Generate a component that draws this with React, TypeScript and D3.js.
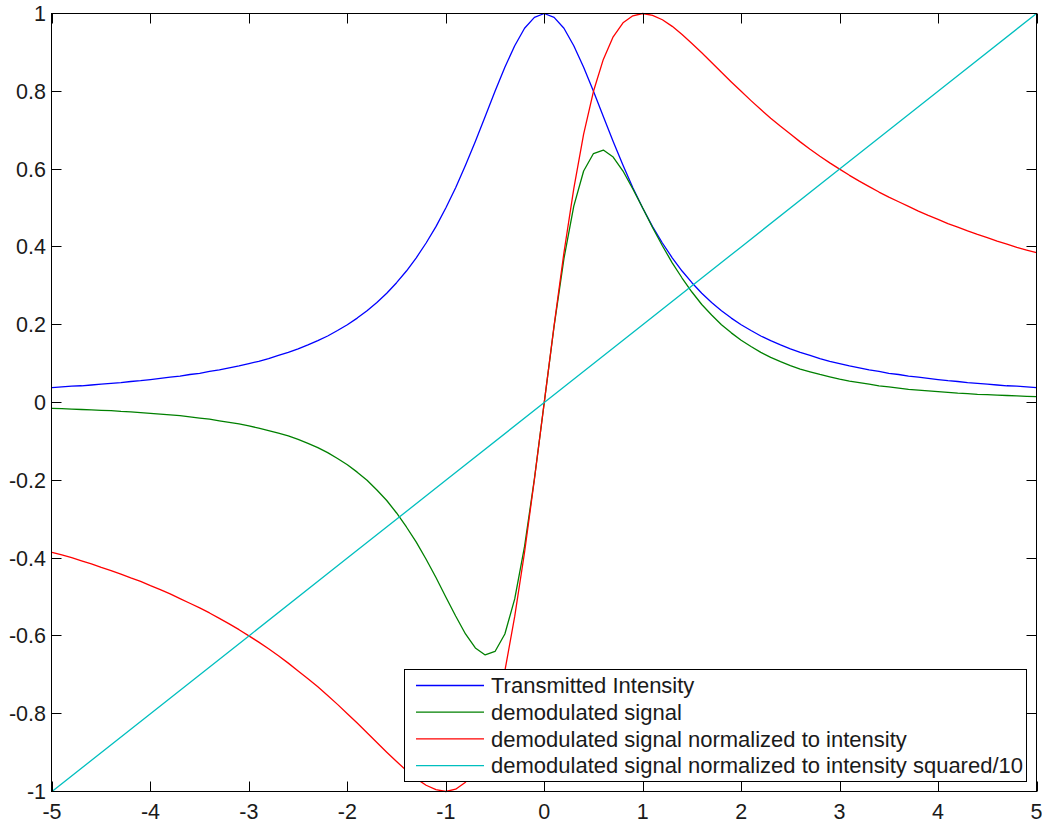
import React from "react";
import * as d3 from "d3";

const xs = [
  -5.0, -4.9, -4.8, -4.7, -4.6, -4.5, -4.4, -4.3, -4.2, -4.1,
  -4.0, -3.9, -3.8, -3.7, -3.6, -3.5, -3.4, -3.3, -3.2, -3.1,
  -3.0, -2.9, -2.8, -2.7, -2.6, -2.5, -2.4, -2.3, -2.2, -2.1,
  -2.0, -1.9, -1.8, -1.7, -1.6, -1.5, -1.4, -1.3, -1.2, -1.1,
  -1.0, -0.9, -0.8, -0.7, -0.6, -0.5, -0.4, -0.3, -0.2, -0.1,
  0.0,
  0.1, 0.2, 0.3, 0.4, 0.5, 0.6, 0.7, 0.8, 0.9, 1.0,
  1.1, 1.2, 1.3, 1.4, 1.5, 1.6, 1.7, 1.8, 1.9, 2.0,
  2.1, 2.2, 2.3, 2.4, 2.5, 2.6, 2.7, 2.8, 2.9, 3.0,
  3.1, 3.2, 3.3, 3.4, 3.5, 3.6, 3.7, 3.8, 3.9, 4.0,
  4.1, 4.2, 4.3, 4.4, 4.5, 4.6, 4.7, 4.8, 4.9, 5.0,
];

const intensity = [
  0.038, 0.040, 0.042, 0.043, 0.045, 0.047, 0.049, 0.051, 0.054, 0.056,
  0.059, 0.062, 0.065, 0.068, 0.072, 0.075, 0.080, 0.084, 0.089, 0.094,
  0.100, 0.106, 0.113, 0.121, 0.129, 0.138, 0.148, 0.159, 0.171, 0.185,
  0.200, 0.217, 0.236, 0.257, 0.281, 0.308, 0.338, 0.372, 0.410, 0.452,
  0.500, 0.552, 0.610, 0.671, 0.735, 0.800, 0.862, 0.917, 0.962, 0.990,
  1.000,
  0.990, 0.962, 0.917, 0.862, 0.800, 0.735, 0.671, 0.610, 0.552, 0.500,
  0.452, 0.410, 0.372, 0.338, 0.308, 0.281, 0.257, 0.236, 0.217, 0.200,
  0.185, 0.171, 0.159, 0.148, 0.138, 0.129, 0.121, 0.113, 0.106, 0.100,
  0.094, 0.089, 0.084, 0.080, 0.075, 0.072, 0.068, 0.065, 0.062, 0.059,
  0.056, 0.054, 0.051, 0.049, 0.047, 0.045, 0.043, 0.042, 0.040, 0.038,
];

const demod = [
  -0.015, -0.016, -0.017, -0.018, -0.019, -0.020, -0.021, -0.023, -0.024, -0.026,
  -0.028, -0.030, -0.032, -0.034, -0.037, -0.040, -0.043, -0.047, -0.051, -0.055,
  -0.060, -0.066, -0.072, -0.079, -0.086, -0.095, -0.105, -0.116, -0.129, -0.144,
  -0.160, -0.179, -0.200, -0.225, -0.252, -0.284, -0.320, -0.359, -0.403, -0.450,
  -0.500, -0.549, -0.595, -0.631, -0.649, -0.640, -0.595, -0.505, -0.370, -0.196,
  0.0,
  0.196, 0.370, 0.505, 0.595, 0.640, 0.649, 0.631, 0.595, 0.549, 0.500,
  0.450, 0.403, 0.359, 0.320, 0.284, 0.252, 0.225, 0.200, 0.179, 0.160,
  0.144, 0.129, 0.116, 0.105, 0.095, 0.086, 0.079, 0.072, 0.066, 0.060,
  0.055, 0.051, 0.047, 0.043, 0.040, 0.037, 0.034, 0.032, 0.030, 0.028,
  0.026, 0.024, 0.023, 0.021, 0.020, 0.019, 0.018, 0.017, 0.016, 0.015,
];

const normalized = [
  -0.385, -0.392, -0.399, -0.407, -0.415, -0.424, -0.432, -0.441, -0.451, -0.460,
  -0.471, -0.481, -0.492, -0.504, -0.516, -0.528, -0.541, -0.555, -0.569, -0.584,
  -0.600, -0.616, -0.633, -0.651, -0.670, -0.690, -0.710, -0.731, -0.753, -0.776,
  -0.800, -0.824, -0.849, -0.874, -0.899, -0.923, -0.946, -0.967, -0.984, -0.995,
  -1.000, -0.994, -0.976, -0.940, -0.882, -0.800, -0.690, -0.550, -0.385, -0.198,
  0.0,
  0.198, 0.385, 0.550, 0.690, 0.800, 0.882, 0.940, 0.976, 0.994, 1.000,
  0.995, 0.984, 0.967, 0.946, 0.923, 0.899, 0.874, 0.849, 0.824, 0.800,
  0.776, 0.753, 0.731, 0.710, 0.690, 0.670, 0.651, 0.633, 0.616, 0.600,
  0.584, 0.569, 0.555, 0.541, 0.528, 0.516, 0.504, 0.492, 0.481, 0.471,
  0.460, 0.451, 0.441, 0.432, 0.424, 0.415, 0.407, 0.399, 0.392, 0.385,
];

const xsSquared = [-5, -4, -3, -2, -1, 0, 1, 2, 3, 4, 5];
const normSquared = [-1.0, -0.8, -0.6, -0.4, -0.2, 0.0, 0.2, 0.4, 0.6, 0.8, 1.0];

const xTicks = [-5, -4, -3, -2, -1, 0, 1, 2, 3, 4, 5];
const yTicks = [-1, -0.8, -0.6, -0.4, -0.2, 0, 0.2, 0.4, 0.6, 0.8, 1];

const seriesNames = [
  "Transmitted Intensity",
  "demodulated signal",
  "demodulated signal normalized to intensity",
  "demodulated signal normalized to intensity squared/10",
];
const seriesColors = ["#0000ff", "#008000", "#ff0000", "#00bfbf"];

const W = 1042;
const H = 822;
const L = 52;
const R = 1036.5;
const T = 13.5;
const B = 791.5;
const FONT = "'Liberation Sans', Arial, sans-serif";

export default function App() {
  const x = d3.scaleLinear().domain([-5, 5]).range([L, R]);
  const y = d3.scaleLinear().domain([-1, 1]).range([B, T]);

  const mk = (xv: number[], yv: number[]) =>
    d3
      .line<number>()
      .x((_, i) => x(xv[i]))
      .y((d) => y(d))(yv) || "";

  const paths = [
    mk(xs, intensity),
    mk(xs, demod),
    mk(xs, normalized),
    mk(xsSquared, normSquared),
  ];

  const fmt = (v: number) => {
    const s = d3.format("")(Math.round(v * 10) / 10);
    return s.replace("−", "-");
  };

  const tickLen = 10;
  const legX0 = 404.5;
  const legX1 = 1026.5;
  const legY0 = 669.5;
  const legY1 = 781.5;
  const rowH = 26.7;
  const row0 = 685.5;

  return (
    <svg
      width={W}
      height={H}
      style={{ position: "absolute", left: 0, top: 0, background: "#fff" }}
      fontFamily={FONT}
    >
      <rect x={0} y={0} width={W} height={H} fill="#fff" />
      <g fill="none" strokeWidth={1.3} strokeLinejoin="round">
        {paths.map((p, i) => (
          <path key={i} d={p} stroke={seriesColors[i]} />
        ))}
      </g>
      {/* axes box */}
      <rect
        x={L - 0.5}
        y={T}
        width={R - L + 0.5}
        height={B - T}
        fill="none"
        stroke="#000"
        strokeWidth={1}
      />
      {/* ticks */}
      <g stroke="#000" strokeWidth={1}>
        {xTicks.map((t) => {
          const px = Math.round(x(t)) + 0.5;
          return (
            <g key={"xt" + t}>
              <line x1={px} x2={px} y1={B} y2={B - tickLen} />
              <line x1={px} x2={px} y1={T} y2={T + tickLen} />
            </g>
          );
        })}
        {yTicks.map((t) => {
          const py = Math.round(y(t) - 0.5) + 0.5;
          return (
            <g key={"yt" + t}>
              <line x1={L - 0.5} x2={L - 0.5 + tickLen} y1={py} y2={py} />
              <line x1={R} x2={R - tickLen} y1={py} y2={py} />
            </g>
          );
        })}
      </g>
      {/* tick labels */}
      <g fontSize={21.5} fill="#1a1a1a">
        {xTicks.map((t) => (
          <text key={"xl" + t} x={x(t)} y={819} textAnchor="middle">
            {fmt(t)}
          </text>
        ))}
        {yTicks.map((t) => (
          <text
            key={"yl" + t}
            x={46}
            y={y(t) + 7.5}
            textAnchor="end"
          >
            {fmt(t)}
          </text>
        ))}
      </g>
      {/* legend */}
      <rect
        x={legX0}
        y={legY0}
        width={legX1 - legX0}
        height={legY1 - legY0}
        fill="#fff"
        stroke="#000"
        strokeWidth={1}
      />
      {seriesNames.map((name, i) => {
        const cy = row0 + i * rowH;
        return (
          <g key={name}>
            <line
              x1={416}
              x2={484}
              y1={cy}
              y2={cy}
              stroke={seriesColors[i]}
              strokeWidth={1.3}
            />
            <text x={491} y={cy + 7.8} fontSize={22} fill="#1a1a1a">
              {name}
            </text>
          </g>
        );
      })}
    </svg>
  );
}
